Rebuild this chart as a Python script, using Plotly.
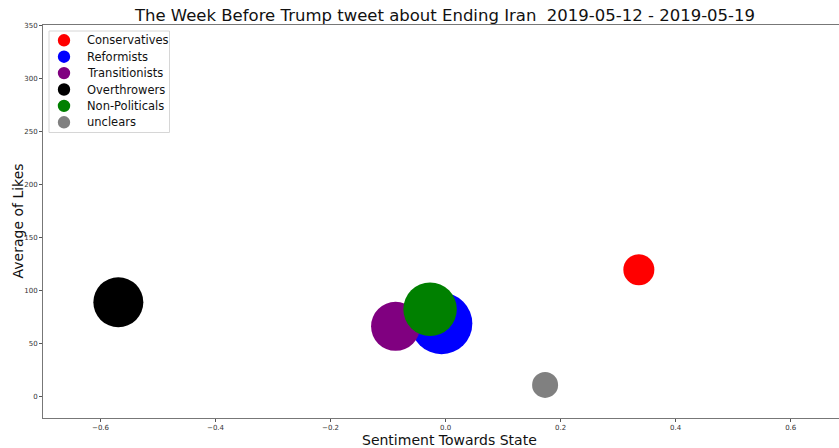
import plotly.graph_objects as go

groups = ["Conservatives", "Reformists", "Transitionists", "Overthrowers", "Non-Politicals", "unclears"]
sentiment = [0.336, -0.007, -0.087, -0.569, -0.027, 0.173]
avg_likes = [119.4, 68.7, 66.0, 88.7, 82.1, 10.7]
bubble_diam = [31, 61.5, 49, 50, 53.5, 26]
colors = ["red", "blue", "purple", "black", "green", "gray"]

x_ticks = [-0.6, -0.4, -0.2, 0.0, 0.2, 0.4, 0.6]
y_ticks = [0, 50, 100, 150, 200, 250, 300, 350]

FONT = "DejaVu Sans"
W, H = 839, 448
L, R, T, B = 43, 0, 25, 30
PW, PH = W - L - R, H - T - B


def px_x(p):
    return (p - L) / PW


def px_y(p):
    return (H - B - p) / PH


fig = go.Figure()
for g, x, y, s, c in zip(groups, sentiment, avg_likes, bubble_diam, colors):
    fig.add_trace(go.Scatter(
        x=[x], y=[y], mode="markers", name=g, showlegend=False,
        marker=dict(size=s, color=c, line=dict(width=0), opacity=1),
    ))

# legend box (matplotlib-style)
shapes = [dict(
    type="rect", xref="paper", yref="paper", layer="above",
    x0=px_x(49), x1=px_x(169.5), y0=px_y(132.5), y1=px_y(31),
    line=dict(color="#d6d6d6", width=1), fillcolor="white",
)]
annotations = []
for i, (g, c) in enumerate(zip(groups, colors)):
    cy = 40.3 + 16.4 * i
    shapes.append(dict(
        type="circle", xref="paper", yref="paper", layer="above",
        xsizemode="pixel", ysizemode="pixel",
        xanchor=px_x(64), yanchor=px_y(cy),
        x0=-6.2, x1=6.2, y0=-6.2, y1=6.2,
        fillcolor=c, line=dict(width=0),
    ))
    annotations.append(dict(
        text=g, xref="paper", yref="paper", showarrow=False,
        x=px_x(84.5), y=px_y(cy), xanchor="left", yanchor="middle",
        font=dict(size=11.5, family=FONT, color="#111"),
    ))

annotations.append(dict(
    text="Sentiment Towards State", xref="paper", yref="paper", showarrow=False,
    x=px_x(449), y=px_y(439.5), xanchor="center", yanchor="middle",
    font=dict(size=14, family=FONT, color="#111"),
))
annotations.append(dict(
    text="Average of Likes", xref="paper", yref="paper", showarrow=False,
    x=px_x(17), y=px_y(221.5), xanchor="center", yanchor="middle", textangle=-90,
    font=dict(size=14, family=FONT, color="#111"),
))

fig.update_layout(
    width=W, height=H,
    margin=dict(l=L, r=R, t=T, b=B),
    paper_bgcolor="white", plot_bgcolor="white",
    font=dict(family=FONT, color="#222"),
    title=dict(
        text="The Week Before Trump tweet about Ending Iran\u00a0\u00a02019-05-12 - 2019-05-19",
        x=445 / W, xref="container", xanchor="center",
        y=1 - 15.5 / H, yref="container", yanchor="middle",
        font=dict(size=16.5, family=FONT, color="#111"),
    ),
    showlegend=False,
    shapes=shapes,
    annotations=annotations,
    xaxis=dict(
        range=[-0.700, 0.684], tickvals=x_ticks, tickformat=".1f",
        showgrid=False, zeroline=False,
        showline=True, linecolor="#777", linewidth=1, mirror=True,
        ticks="outside", ticklen=2.5, tickcolor="#555", tickwidth=1,
        tickfont=dict(size=7, family=FONT, color="#333"),
    ),
    yaxis=dict(
        range=[-20.5, 350.3], tickvals=y_ticks,
        showgrid=False, zeroline=False,
        showline=True, linecolor="#777", linewidth=1, mirror=False,
        ticks="outside", ticklen=3, tickcolor="#555", tickwidth=1,
        tickfont=dict(size=7, family=FONT, color="#333"),
    ),
)

fig.write_html("out.html", config={"displayModeBar": False},
               post_script="document.body.style.margin='0';")
